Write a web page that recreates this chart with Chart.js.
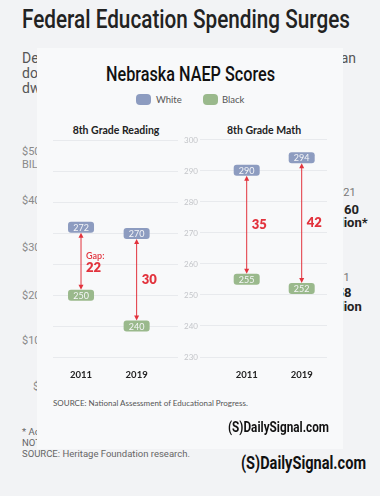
<!DOCTYPE html>
<html>
<head>
<meta charset="utf-8">
<script src="https://cdn.jsdelivr.net/npm/chart.js@4.4.1/dist/chart.umd.min.js"></script>
<style>
  html, body { margin: 0; padding: 0; }
  body { width: 380px; height: 496px; position: relative; overflow: hidden; background: #f2f3f5; font-family: Roboto, sans-serif; }
  .abs { position: absolute; white-space: nowrap; line-height: 1; }
  .bgtxt { color: #555; font-size: 14px; }
  .axis { color: #8a8a8a; font-size: 11px; }
  .note { color: #666; font-size: 9.5px; }
  #panel { position: absolute; left: 37px; top: 48px; width: 306px; height: 401px; background: #f8f9fa; }
  .sub { font-family: Lato, sans-serif; font-size: 10.5px; font-weight: 700; color: #222; transform: translateX(-50%); }
  .legend { font-family: Lato, sans-serif; font-size: 9.5px; color: #555; }
  .sw { position: absolute; width: 15px; height: 11px; border-radius: 4px; }
  .logo { font-weight: 700; color: #111; transform-origin: left top; }
  .wrap { position: absolute; }
</style>
</head>
<body>
  <!-- background story graphic -->
  <div class="abs fit" data-w="328" style="left:22px;top:7px;font-size:25px;font-weight:500;color:#222;transform-origin:left top;">Federal Education Spending Surges</div>
  <div class="abs bgtxt" style="left:22px;top:51px;">Despite gains</div>
  <div class="abs bgtxt" style="left:22px;top:66px;">dollars</div>
  <div class="abs bgtxt" style="left:22px;top:81px;">dwindled</div>
  <div class="abs bgtxt" style="right:24px;top:51px;">than</div>

  <div class="abs axis" style="left:22px;top:146px;">$50</div>
  <div class="abs axis" style="left:22px;top:159px;">BILLION</div>
  <div class="abs axis" style="left:22px;top:195px;">$40</div>
  <div class="abs axis" style="left:22px;top:242px;">$30</div>
  <div class="abs axis" style="left:22px;top:290px;">$20</div>
  <div class="abs axis" style="left:22px;top:335px;">$10</div>
  <div class="abs axis" style="left:33px;top:381px;">$0</div>

  <div class="abs" style="left:331px;top:187px;font-size:11px;color:#777;">2021</div>
  <div class="abs" style="left:329px;top:203px;font-size:13px;font-weight:700;color:#222;">$160</div>
  <div class="abs" style="left:326px;top:216px;font-size:13px;font-weight:700;color:#222;">billion*</div>
  <div class="abs" style="left:325px;top:272px;font-size:11px;color:#777;">2011</div>
  <div class="abs" style="left:329px;top:286px;font-size:13px;font-weight:700;color:#222;">$58</div>
  <div class="abs" style="left:326px;top:300px;font-size:13px;font-weight:700;color:#222;">billion</div>

  <div class="abs note" style="left:22px;top:427px;">* Adjusted for inflation.</div>
  <div class="abs note" style="left:22px;top:438px;">NOTE: Fiscal years.</div>
  <div class="abs note" style="left:22px;top:449px;">SOURCE: Heritage Foundation research.</div>
  <div class="abs logo fit" data-w="125" style="left:241px;top:454px;font-size:18px;">(S)DailySignal.com</div>

  <!-- overlaid NAEP chart -->
  <div id="panel"></div>
  <div class="abs fit" data-w="169" style="left:106px;top:64px;font-size:21px;font-weight:500;color:#111;transform-origin:left top;">Nebraska NAEP Scores</div>
  <div class="sw" style="left:136px;top:94px;background:#8d9cc0;"></div>
  <div class="abs legend" style="left:156px;top:95px;">White</div>
  <div class="sw" style="left:203px;top:94px;background:#9ab98c;"></div>
  <div class="abs legend" style="left:222px;top:95px;">Black</div>

  <div class="abs sub" style="left:116px;top:125px;">8th Grade Reading</div>
  <div class="abs sub" style="left:264px;top:125px;">8th Grade Math</div>

  <div class="wrap" style="left:40px;top:130px;width:165px;height:250px;"><canvas id="reading"></canvas></div>
  <div class="wrap" style="left:195px;top:130px;width:140px;height:250px;"><canvas id="math"></canvas></div>

  <div class="abs" style="left:53px;top:399px;font-family:Lato,sans-serif;font-size:8px;color:#555;">SOURCE: National Assessment of Educational Progress.</div>
  <div class="abs logo fit" data-w="101" style="left:228px;top:420px;font-size:15px;">(S)DailySignal.com</div>

<script>
const years = ['2011', '2019'];
const readingWhite = [272, 270];
const readingBlack = [250, 240];
const mathWhite = [290, 294];
const mathBlack = [255, 252];
const scoreMin = 230;
const scoreMax = 300;

const blue = '#8d9cc0';
const green = '#9ab98c';
const red = '#e2333d';

// stretch condensed headline text to the width it has in the graphic
document.querySelectorAll('.fit').forEach(el => {
    const w = el.getBoundingClientRect().width;
    el.style.transform = `scaleX(${el.dataset.w / w})`;
});

function roundRect(ctx, x, y, w, h, r) {
    ctx.beginPath();
    ctx.moveTo(x + r, y);
    ctx.arcTo(x + w, y, x + w, y + h, r);
    ctx.arcTo(x + w, y + h, x, y + h, r);
    ctx.arcTo(x, y + h, x, y, r);
    ctx.arcTo(x, y, x + w, y, r);
    ctx.closePath();
}

// boxes for each score plus a red double arrow showing the gap
const gapPlugin = {
    id: 'gapPlugin',
    afterDatasetsDraw(chart) {
        const ctx = chart.ctx;
        const whites = chart.getDatasetMeta(0).data;
        const blacks = chart.getDatasetMeta(1).data;
        const wv = chart.data.datasets[0].data;
        const bv = chart.data.datasets[1].data;
        const boxW = 26, boxH = 11;

        ctx.save();
        whites.forEach((pw, i) => {
            const pb = blacks[i];
            const x = pw.x;
            const y1 = pw.y + boxH / 2;
            const y2 = pb.y - boxH / 2;

            ctx.strokeStyle = red;
            ctx.fillStyle = red;
            ctx.lineWidth = 1;
            ctx.beginPath();
            ctx.moveTo(x, y1 + 4);
            ctx.lineTo(x, y2 - 4);
            ctx.stroke();
            ctx.beginPath();
            ctx.moveTo(x, y1);
            ctx.lineTo(x - 2.5, y1 + 5);
            ctx.lineTo(x + 2.5, y1 + 5);
            ctx.closePath();
            ctx.fill();
            ctx.beginPath();
            ctx.moveTo(x, y2);
            ctx.lineTo(x - 2.5, y2 - 5);
            ctx.lineTo(x + 2.5, y2 - 5);
            ctx.closePath();
            ctx.fill();

            const gap = wv[i].y - bv[i].y;
            const mid = (y1 + y2) / 2;
            ctx.textAlign = 'left';
            ctx.textBaseline = 'middle';
            if (chart.options.plugins.gapPlugin.gapWord && i === 0) {
                ctx.font = '600 9px Lato, sans-serif';
                ctx.fillText('Gap:', x + 5, mid - 5);
                ctx.font = '800 13px Lato, sans-serif';
                ctx.fillText(String(gap), x + 5, mid + 7);
            } else {
                ctx.font = '800 13px Lato, sans-serif';
                ctx.fillText(String(gap), x + 5, mid);
            }

            [[pw, wv[i].y, blue], [pb, bv[i].y, green]].forEach(([p, v, c]) => {
                ctx.fillStyle = c;
                roundRect(ctx, p.x - boxW / 2, p.y - boxH / 2, boxW, boxH, 3);
                ctx.fill();
                ctx.fillStyle = '#f5f6f8';
                ctx.font = '9px Lato, sans-serif';
                ctx.textAlign = 'center';
                ctx.fillText(String(v), p.x, p.y + 0.5);
            });
        });
        ctx.restore();
    }
};

function makeChart(id, white, black, opt) {
    return new Chart(document.getElementById(id), {
        type: 'scatter',
        data: {
            datasets: [
                { label: 'White', data: white.map((v, i) => ({ x: i, y: v })), pointRadius: 0, backgroundColor: blue },
                { label: 'Black', data: black.map((v, i) => ({ x: i, y: v })), pointRadius: 0, backgroundColor: green }
            ]
        },
        options: {
            responsive: true,
            maintainAspectRatio: false,
            animation: false,
            layout: { padding: opt.padding },
            plugins: {
                legend: { display: false },
                tooltip: { enabled: false },
                gapPlugin: { gapWord: opt.gapWord }
            },
            scales: {
                x: {
                    type: 'linear',
                    min: opt.xMin,
                    max: opt.xMax,
                    afterBuildTicks: s => { s.ticks = years.map((y, i) => ({ value: i })); },
                    ticks: {
                        callback: v => years[v],
                        font: { family: 'Lato', size: 9.5, weight: 'bold' },
                        color: '#222',
                        padding: 4
                    },
                    grid: { display: false },
                    border: { display: false },
                    afterFit: s => { s.height = 23; }
                },
                y: {
                    position: opt.yPos,
                    min: scoreMin,
                    max: scoreMax,
                    ticks: {
                        display: opt.yLabels,
                        stepSize: 10,
                        font: { family: 'Lato', size: 8 },
                        color: '#c4c6ca',
                        padding: 6
                    },
                    grid: { color: '#e8eaed', drawTicks: false },
                    border: { display: false },
                    afterFit: s => { s.width = opt.yWidth; }
                }
            }
        },
        plugins: [gapPlugin]
    });
}

makeChart('reading', readingWhite, readingBlack, {
    padding: { left: 13, top: 9, right: 0, bottom: 0 },
    xMin: -0.504, xMax: 1.744,
    yPos: 'right', yLabels: true, yWidth: 27,
    gapWord: true
});

makeChart('math', mathWhite, mathBlack, {
    padding: { left: 5, top: 9, right: 8, bottom: 0 },
    xMin: -0.849, xMax: 1.46,
    yPos: 'left', yLabels: false, yWidth: 0,
    gapWord: false
});
</script>
</body>
</html>
